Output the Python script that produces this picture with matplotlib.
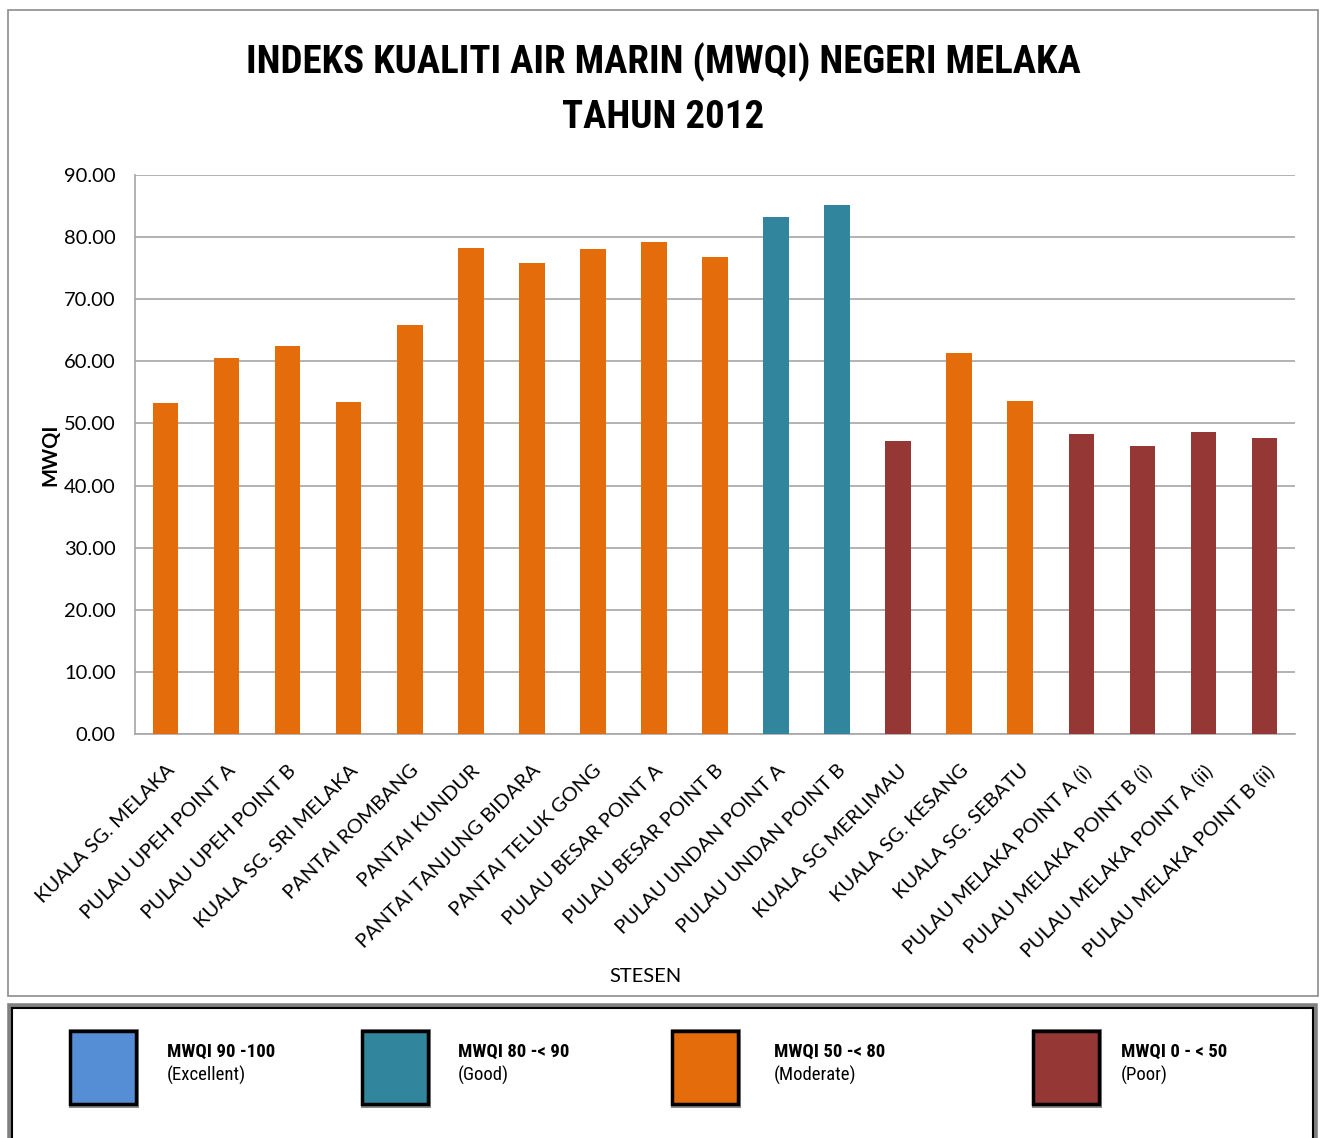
import matplotlib.pyplot as plt
from matplotlib.patches import Rectangle

stations = ['KUALA SG. MELAKA', 'PULAU UPEH POINT A', 'PULAU UPEH POINT B',
            'KUALA SG. SRI MELAKA', 'PANTAI ROMBANG', 'PANTAI KUNDUR',
            'PANTAI TANJUNG BIDARA', 'PANTAI TELUK GONG', 'PULAU BESAR POINT A',
            'PULAU BESAR POINT B', 'PULAU UNDAN POINT A', 'PULAU UNDAN POINT B',
            'KUALA SG MERLIMAU', 'KUALA SG. KESANG', 'KUALA SG. SEBATU',
            'PULAU MELAKA POINT A (i)', 'PULAU MELAKA POINT B (i)',
            'PULAU MELAKA POINT A (ii)', 'PULAU MELAKA POINT B (ii)']
mwqi = [53.3, 60.5, 62.5, 53.4, 65.8, 78.2, 75.8, 78.1, 79.2, 76.8,
        83.2, 85.1, 47.1, 61.3, 53.6, 48.3, 46.3, 48.6, 47.7]

class_names = ['MWQI 90 -100', 'MWQI 80 -< 90', 'MWQI 50 -< 80', 'MWQI 0 - < 50']
class_desc = ['(Excellent)', '(Good)', '(Moderate)', '(Poor)']
class_lower = [90, 80, 50, 0]
class_colors = ['#558ED5', '#31859C', '#E46C0A', '#953735']

TITLE_FONT = ['Roboto Condensed', 'Lato']
BODY_FONT = ['Lato']
LEG_FONT = ['Roboto Condensed', 'Liberation Sans']


def colour_for(v):
    for lo, c in zip(class_lower, class_colors):
        if v >= lo:
            return c
    return class_colors[-1]


fig = plt.figure(figsize=(13.22, 11.38), dpi=100)
ax = fig.add_axes([0.1021, 0.355, 0.8775, 0.4912])

x = range(len(stations))
ax.bar(x, mwqi, width=0.42, color=[colour_for(v) for v in mwqi], zorder=3)
ax.set_xlim(-0.5, len(stations) - 0.5)
ax.set_ylim(0, 90)
ax.set_yticks(range(0, 91, 10))
ax.set_yticklabels(['%.2f' % t for t in range(0, 91, 10)],
                   fontsize=14.5, family=BODY_FONT)
ax.yaxis.grid(True, color='#a6a6a6', lw=1.2, zorder=0)
ax.tick_params(axis='y', length=0, pad=14)
ax.tick_params(axis='x', length=0, pad=20)
ax.set_xticks(list(x))
ax.set_xticklabels(stations, rotation=45, ha='right', va='top',
                   rotation_mode='anchor', fontsize=14.5, family=BODY_FONT)
for s in ['top', 'right']:
    ax.spines[s].set_visible(False)
for s in ['left', 'bottom']:
    ax.spines[s].set_color('#a6a6a6')
    ax.spines[s].set_linewidth(1.2)

ax.set_ylabel('MWQI', fontsize=14.5, fontweight='bold', family=BODY_FONT)
ax.yaxis.set_label_coords(-0.064, 0.5)
fig.text(645 / 1322, 1 - 976 / 1138, 'STESEN', ha='center', va='center',
         fontsize=14.5, family=BODY_FONT)

fig.text(663 / 1322, 1 - 62 / 1138, 'INDEKS KUALITI AIR MARIN (MWQI) NEGERI MELAKA',
         ha='center', va='center', fontsize=28, fontweight='bold',
         family=TITLE_FONT)
fig.text(663 / 1322, 1 - 118 / 1138, 'TAHUN 2012', ha='center', va='center',
         fontsize=28, fontweight='bold', family=TITLE_FONT)

W, H = 1322, 1138


def px_rect(x0, y0, x1, y1, **kw):
    return Rectangle((x0 / W, 1 - y1 / H), (x1 - x0) / W, (y1 - y0) / H,
                     transform=fig.transFigure, **kw)


# chart frame
fig.patches.append(px_rect(8, 10, 1318, 996, fill=False, ec='#8c8c8c', lw=1.2))
# legend frame
fig.patches.append(px_rect(10, 1006, 1315, 1145, fill=False, ec='#808080', lw=4))
fig.patches.append(px_rect(12, 1008, 1313, 1145, fill=False, ec='black', lw=1.5))

sw_x = [68, 360, 670, 1031]
txt_x = [167, 458, 774, 1121]
for i in range(4):
    x0 = sw_x[i]
    fig.patches.append(px_rect(x0 + 1, 1029, x0 + 71, 1108, fc='#8c8c8c', ec='none'))
    fig.patches.append(px_rect(x0 + 2, 1031, x0 + 68, 1104, fc=class_colors[i],
                               ec='black', lw=2.5))
    fig.text(txt_x[i] / W, 1 - 1052 / H, class_names[i], ha='left', va='center',
             fontsize=13.5, fontweight='bold', family=LEG_FONT)
    fig.text(txt_x[i] / W, 1 - 1075 / H, class_desc[i], ha='left', va='center',
             fontsize=13.5, family=LEG_FONT)

fig.savefig('out.png', dpi=100)
